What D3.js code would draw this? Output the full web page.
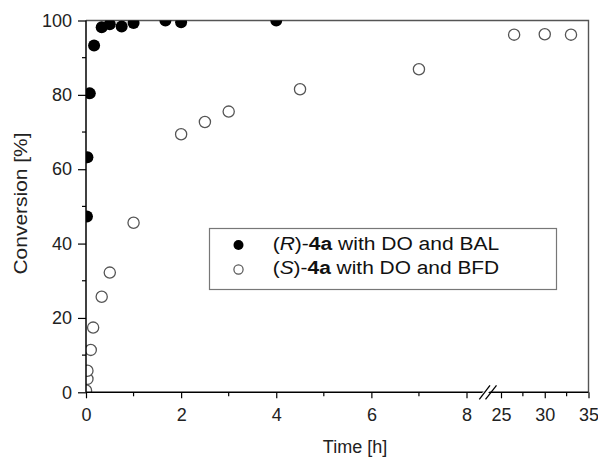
<!DOCTYPE html>
<html>
<head>
<meta charset="utf-8">
<script src="https://cdn.jsdelivr.net/npm/d3@7/dist/d3.min.js"></script>
<style>
  html, body { margin: 0; padding: 0; background: #fff; }
  svg { display: block; font-family: "Liberation Sans", Arial, sans-serif; }
</style>
</head>
<body>
<svg id="chart" width="598" height="457"></svg>
<script>
// (R)-4a with DO and BAL
const rTime = [0.02, 0.03, 0.08, 0.17, 0.33, 0.5, 0.75, 1, 1.67, 2, 4];
const rConv = [47.3, 63.2, 80.4, 93.3, 98.2, 99.0, 98.4, 99.3, 100, 99.5, 100];

// (S)-4a with DO and BFD
const sTime = [0, 0.03, 0.03, 0.1, 0.15, 0.33, 0.5, 1, 2, 2.5, 3, 4.5, 7, 26.5, 30, 33];
const sConv = [0.5, 3.6, 5.8, 11.4, 17.4, 25.7, 32.2, 45.6, 69.4, 72.7, 75.5, 81.5, 86.9, 96.2, 96.3, 96.2];

// axis ticks (broken time axis: 0–8 h, then 25–35 h)
const xTicksA = [0, 2, 4, 6, 8];
const xMinorA = [1, 3, 5, 7];
const xTicksB = [25, 30, 35];
const xMinorB = [27.5, 32.5];
const yTicks = [0, 20, 40, 60, 80, 100];
const yMinor = [10, 30, 50, 70, 90];

const svg = d3.select("#chart");
const pLeft = 86, pRight = 588.5, pTop = 20.5, pBottom = 392.3;

const xA = d3.scaleLinear().domain([0, 8]).range([pLeft, 466.5]);
const xB = d3.scaleLinear().domain([25, 35]).range([501, pRight]);
const x = t => (t <= 8 ? xA(t) : xB(t));
const y = d3.scaleLinear().domain([0, 100]).range([pBottom, pTop]);

svg.append("defs").append("clipPath").attr("id", "plot")
  .append("rect").attr("x", pLeft).attr("y", pTop)
  .attr("width", pRight - pLeft).attr("height", pBottom - pTop);

// frame: top and right border
svg.append("path")
  .attr("d", `M${pLeft},${pTop}H${pRight}V${pBottom}`)
  .attr("fill", "none").attr("stroke", "#555").attr("stroke-width", 1.4);

// points
const pts = svg.append("g").attr("clip-path", "url(#plot)");
pts.selectAll("circle.s").data(d3.zip(sTime, sConv)).join("circle")
  .attr("class", "s")
  .attr("cx", d => x(d[0])).attr("cy", d => y(d[1])).attr("r", 5.6)
  .attr("fill", "#fff").attr("stroke", "#555").attr("stroke-width", 1.3);
pts.selectAll("circle.r").data(d3.zip(rTime, rConv)).join("circle")
  .attr("class", "r")
  .attr("cx", d => x(d[0])).attr("cy", d => y(d[1])).attr("r", 6)
  .attr("fill", "#000");

// y axis
const gy = svg.append("g").attr("transform", `translate(${pLeft},0)`)
  .call(d3.axisLeft(y).tickValues(yTicks).tickSize(8).tickPadding(6).tickFormat(d3.format("d")));
gy.append("g").selectAll("line").data(yMinor).join("line")
  .attr("x1", -4).attr("x2", 0).attr("y1", d => y(d)).attr("y2", d => y(d))
  .attr("stroke", "#000").attr("stroke-width", 1.2);

// x axis, two segments sharing one baseline
const gxA = svg.append("g").attr("transform", `translate(0,${pBottom})`)
  .call(d3.axisBottom(xA).tickValues(xTicksA).tickSize(6).tickPadding(10).tickSizeOuter(0));
const gxB = svg.append("g").attr("transform", `translate(0,${pBottom})`)
  .call(d3.axisBottom(xB).tickValues(xTicksB).tickSize(6).tickPadding(10).tickSizeOuter(0));
gxA.select(".domain").remove();
gxB.select(".domain").remove();

const base = svg.append("g").attr("transform", `translate(0,${pBottom})`);
base.append("line").attr("x1", pLeft).attr("x2", pRight).attr("y1", 0).attr("y2", 0)
  .attr("stroke", "#000").attr("stroke-width", 1.5);
base.selectAll("line.minor").data(xMinorA.map(xA).concat(xMinorB.map(xB))).join("line")
  .attr("class", "minor")
  .attr("x1", d => d).attr("x2", d => d).attr("y1", 0).attr("y2", 4)
  .attr("stroke", "#000").attr("stroke-width", 1.2);

[gy, gxA, gxB].forEach(g => {
  g.selectAll(".tick line").attr("stroke", "#000").attr("stroke-width", 1.2);
  g.selectAll(".tick text").attr("font-size", 18).attr("fill", "#222")
    .attr("font-family", "Liberation Sans, Arial, sans-serif");
});
gy.select(".domain").attr("d", `M0,${pBottom}V${pTop}`)
  .attr("stroke", "#000").attr("stroke-width", 1.5);

// axis break mark
const brk = svg.append("g");
brk.append("polygon")
  .attr("points", `481,${pBottom + 2} 488,${pBottom - 6} 494,${pBottom - 6} 487,${pBottom + 2}`)
  .attr("fill", "#fff");
brk.selectAll("line").data([[479.3, 490], [485.5, 496.5]]).join("line")
  .attr("x1", d => d[0]).attr("y1", pBottom + 7).attr("x2", d => d[1]).attr("y2", pBottom - 7)
  .attr("stroke", "#000").attr("stroke-width", 1.3);

// axis titles
svg.append("text").attr("x", 355).attr("y", 453).attr("text-anchor", "middle")
  .attr("font-size", 18).attr("fill", "#222").text("Time [h]");
svg.append("text").attr("transform", `translate(27,${203.5}) rotate(-90)`)
  .attr("text-anchor", "middle").attr("font-size", 18).attr("fill", "#222")
  .attr("textLength", 142).attr("lengthAdjust", "spacingAndGlyphs")
  .text("Conversion [%]");

// legend
const lg = svg.append("g");
lg.append("rect").attr("x", 209.5).attr("y", 228.5).attr("width", 347).attr("height", 61)
  .attr("fill", "#fff").attr("stroke", "#777").attr("stroke-width", 1.2);
const items = [
  { id: "R", tail: " with DO and BAL", filled: true, cy: 245 },
  { id: "S", tail: " with DO and BFD", filled: false, cy: 269.5 }
];
items.forEach(it => {
  lg.append("circle").attr("cx", 238.5).attr("cy", it.cy).attr("r", it.filled ? 5 : 4.6)
    .attr("fill", it.filled ? "#000" : "#fff")
    .attr("stroke", it.filled ? "none" : "#555").attr("stroke-width", 1.2);
  const t = lg.append("text").attr("x", 272.7).attr("y", it.cy + 4.8)
    .attr("font-size", 18).attr("fill", "#111")
    .attr("textLength", 226.5).attr("lengthAdjust", "spacingAndGlyphs");
  t.append("tspan").text("(");
  t.append("tspan").attr("font-style", "italic").text(it.id);
  t.append("tspan").text(")-");
  t.append("tspan").attr("font-weight", "bold").text("4a");
  t.append("tspan").text(it.tail);
});
</script>
</body>
</html>
